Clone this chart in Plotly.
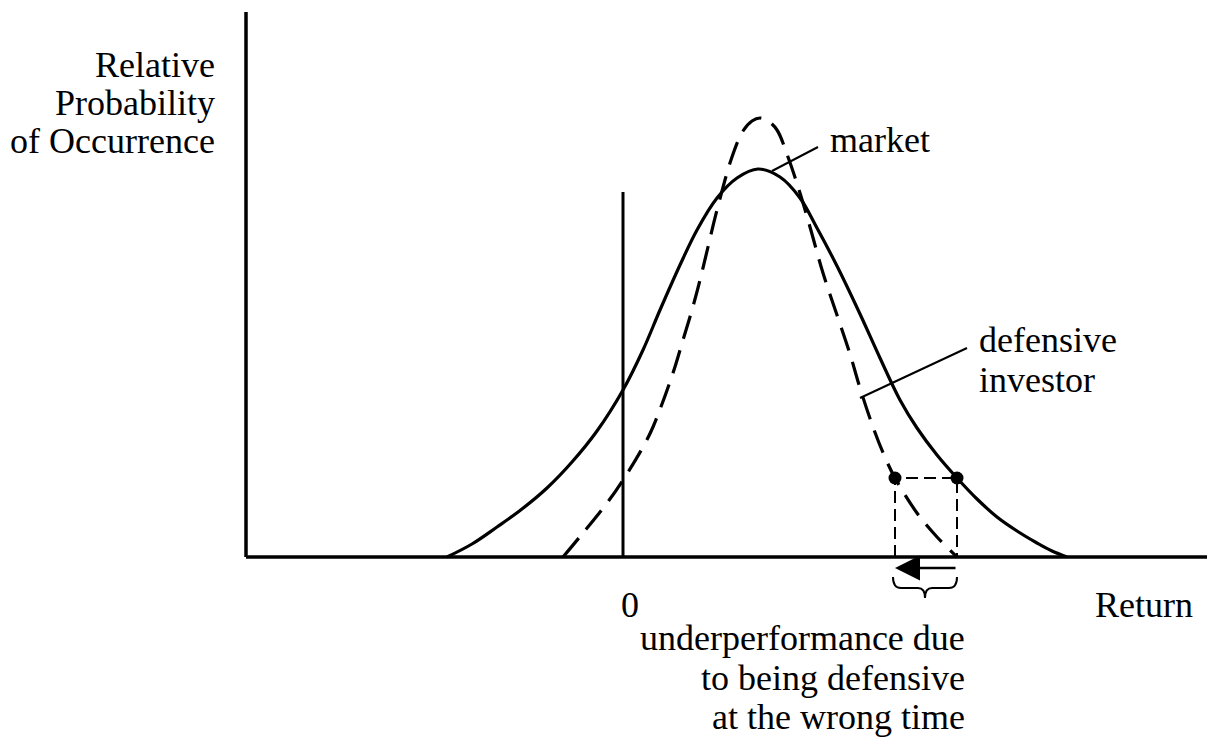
import plotly.graph_objects as go

# ---- data (returns in arbitrary units, relative probability) ----
market_return = [-17.6, -15.1, -12.6, -10.1, -7.6, -5.1, -2.6, 0.0, 2.0, 3.7, 5.7,
                 7.4, 9.4, 11.4, 13.5, 15.7, 17.7, 19.4, 21.4, 23.7, 25.7, 27.7, 29.4,
                 31.4, 33.4, 35.4, 37.4, 39.4, 41.4, 42.9, 44.4]
market_prob = [0.0, 0.13, 0.30, 0.48, 0.69, 0.95, 1.26, 1.67, 2.07, 2.47, 2.92,
               3.27, 3.59, 3.79, 3.88, 3.80, 3.59, 3.29, 2.91, 2.43, 1.99, 1.57, 1.29,
               1.02, 0.79, 0.58, 0.40, 0.26, 0.14, 0.06, 0.0]

defensive_return = [-6.0, -4.0, -1.6, 0.0, 2.0, 3.0, 5.0, 6.0, 6.9, 7.7, 8.5, 9.4, 10.9,
                    12.0, 12.9, 13.7, 14.5, 15.4, 16.5, 17.7, 18.7, 20.0, 21.4, 22.7,
                    23.7, 25.0, 26.1, 27.2, 29.4, 31.4, 33.4]
defensive_prob = [0.0, 0.24, 0.54, 0.77, 1.10, 1.30, 1.84, 2.17, 2.47, 2.77, 3.10, 3.47,
                  4.00, 4.26, 4.36, 4.39, 4.36, 4.27, 4.00, 3.64, 3.30, 2.84, 2.42, 2.03,
                  1.69, 1.30, 1.02, 0.79, 0.44, 0.20, 0.0]

marked_returns = [27.2, 33.4]   # defensive vs market return at the same probability
marked_level = 0.79
zero_line_top = 3.65

y_axis_labels = ["Relative", "Probability", "of Occurrence"]
note_lines = ["underperformance due", "to being defensive", "at the wrong time"]

# ---- geometry of the drawing ----
X_RANGE = [-61.5, 59.2]
Y_RANGE = [-1.80, 5.49]
AXIS_X = -37.7
FONT = "Liberation Serif, Times New Roman, serif"
FS = 36

fig = go.Figure()

fig.add_trace(go.Scatter(x=market_return, y=market_prob, mode="lines",
                         line=dict(color="black", width=3.2, shape="spline", smoothing=1.0),
                         hoverinfo="skip", showlegend=False))
fig.add_trace(go.Scatter(x=defensive_return, y=defensive_prob, mode="lines",
                         line=dict(color="black", width=3.2, dash="24px,12px",
                                   shape="spline", smoothing=1.0),
                         hoverinfo="skip", showlegend=False))

# dashed box between the two marked points
lo, hi = marked_returns
fig.add_trace(go.Scatter(x=[lo, lo, hi, hi], y=[0, marked_level, marked_level, 0],
                         mode="lines", line=dict(color="black", width=2, dash="12px,6px"),
                         hoverinfo="skip", showlegend=False))
fig.add_trace(go.Scatter(x=marked_returns, y=[marked_level] * 2, mode="markers",
                         marker=dict(color="black", size=13),
                         hoverinfo="skip", showlegend=False))

shapes = [
    # axes
    dict(type="line", x0=AXIS_X, x1=AXIS_X, y0=0, y1=5.45, line=dict(color="black", width=3.5)),
    dict(type="line", x0=AXIS_X, x1=X_RANGE[1], y0=0, y1=0, line=dict(color="black", width=3.5)),
    # zero return line
    dict(type="line", x0=0, x1=0, y0=0, y1=zero_line_top, line=dict(color="black", width=3)),
    # leader lines
    dict(type="line", x0=19.5, y0=4.10, x1=14.9, y1=3.86, line=dict(color="black", width=2)),
    dict(type="line", x0=34.4, y0=2.09, x1=23.7, y1=1.59, line=dict(color="black", width=2)),
    # brace
    dict(type="path",
         path=("M 27.0,-0.20 Q 27.0,-0.31 27.8,-0.31 L 29.5,-0.31 "
               "Q 30.2,-0.31 30.2,-0.41 Q 30.2,-0.31 30.9,-0.31 "
               "L 32.6,-0.31 Q 33.4,-0.31 33.4,-0.20"),
         line=dict(color="black", width=2)),
]

ann = []

def txt(text, x, y, xanchor):
    ann.append(dict(text=text, x=x, y=y, xref="x", yref="y", showarrow=False,
                    xanchor=xanchor, yanchor="middle",
                    font=dict(family=FONT, size=FS, color="black")))

for i, t in enumerate(y_axis_labels):
    txt(t, -40.6, 4.92 - 0.38 * i, "right")
txt("market", 20.5, 4.17, "left")
txt("defensive", 35.4, 2.17, "left")
txt("investor", 35.4, 1.77, "left")
txt("0", 0.7, -0.48, "center")
txt("Return", 52.1, -0.48, "center")
for i, t in enumerate(note_lines):
    txt(t, 34.4, -0.81 - 0.395 * i, "right")

# arrow pointing left below the axis
ann.append(dict(text="", x=lo, y=-0.11, ax=hi, ay=-0.11, xref="x", yref="y",
                axref="x", ayref="y", showarrow=True, arrowhead=2, arrowsize=2,
                arrowwidth=2.5, arrowcolor="black", standoff=0, startstandoff=0))

fig.update_layout(
    width=1207, height=729,
    margin=dict(l=0, r=0, t=0, b=0),
    paper_bgcolor="white", plot_bgcolor="white",
    xaxis=dict(range=X_RANGE, visible=False, fixedrange=True),
    yaxis=dict(range=Y_RANGE, visible=False, fixedrange=True),
    shapes=shapes, annotations=ann,
    showlegend=False,
)

fig.write_html("out.html")
